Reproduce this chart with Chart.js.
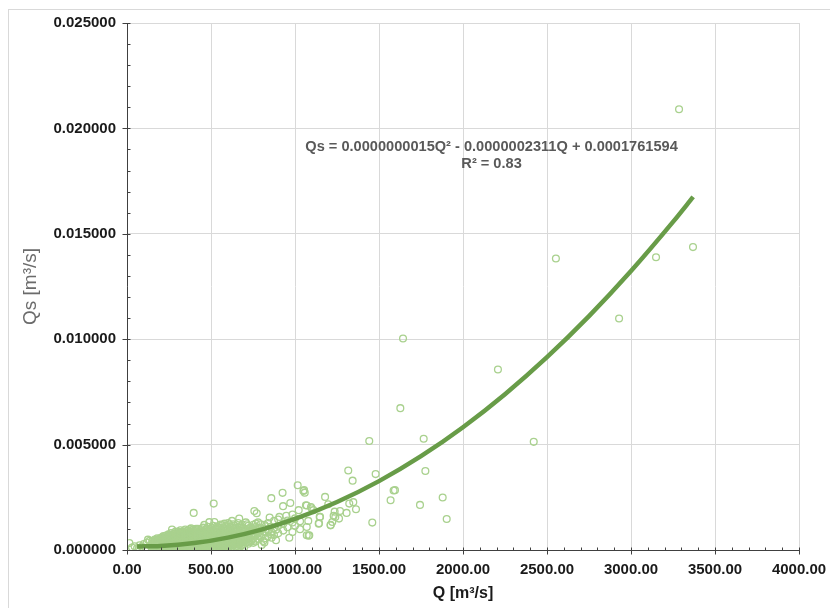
<!DOCTYPE html>
<html>
<head>
<meta charset="utf-8">
<script src="https://cdn.jsdelivr.net/npm/chart.js@4/dist/chart.umd.min.js"></script>
<style>
  html, body { margin: 0; padding: 0; background: #fff; }
  #wrap { width: 830px; height: 608px; position: relative; }
</style>
</head>
<body>
<div id="wrap"><canvas id="chart"></canvas></div>
<script>
const lowFlowPoints = [
  [14,0.00033],[30,0.00012],[45,0.00018],[60,0.00008],[75,0.00022],[88,0.00015],[100,0.00028],[110,0.00010],[118,0.00035],[125,0.00049],[135,0.00044],[140,0.00020],
  [150,0.00005],[150,0.00018],[150,0.00031],[150,0.00042],
  [165,0.00012],[165,0.00025],[165,0.00038],[165,0.00050],
  [180,0.00004],[180,0.00016],[180,0.00029],[180,0.00045],[180,0.00056],
  [195,0.00009],[195,0.00021],[195,0.00034],[195,0.00047],
  [210,0.00003],[210,0.00014],[210,0.00027],[210,0.00040],[210,0.00053],[210,0.00062],
  [225,0.00008],[225,0.00020],[225,0.00033],[225,0.00046],[225,0.00058],
  [240,0.00002],[240,0.00013],[240,0.00025],[240,0.00038],[240,0.00051],[240,0.00064],
  [255,0.00007],[255,0.00019],[255,0.00031],[255,0.00044],[255,0.00057],[255,0.00070],
  [268,0.00097],[268,0.00011],[268,0.00024],[268,0.00036],[268,0.00049],[268,0.00061],
  [282,0.00004],[282,0.00016],[282,0.00029],[282,0.00042],[282,0.00055],[282,0.00068],[282,0.00078],
  [296,0.00009],[296,0.00021],[296,0.00034],[296,0.00047],[296,0.00060],[296,0.00073]
];

const midFlowPoints = [
  [310,0.00002],[310,0.00014],[310,0.00027],[310,0.00040],[310,0.00053],[310,0.00066],[310,0.00080],
  [325,0.00008],[325,0.00020],[325,0.00033],[325,0.00046],[325,0.00059],[325,0.00072],[325,0.00086],
  [340,0.00003],[340,0.00015],[340,0.00028],[340,0.00041],[340,0.00054],[340,0.00067],[340,0.00081],
  [355,0.00010],[355,0.00023],[355,0.00036],[355,0.00049],[355,0.00062],[355,0.00075],[355,0.00090],
  [370,0.00005],[370,0.00017],[370,0.00030],[370,0.00043],[370,0.00056],[370,0.00069],[370,0.00083],
  [381,0.00103],
  [385,0.00011],[385,0.00024],[385,0.00037],[385,0.00050],[385,0.00063],[385,0.00077],[385,0.00092],
  [397,0.00176],
  [400,0.00002],[400,0.00016],[400,0.00029],[400,0.00042],[400,0.00055],[400,0.00068],[400,0.00085],
  [411,0.00101],
  [415,0.00009],[415,0.00022],[415,0.00035],[415,0.00048],[415,0.00061],[415,0.00074],[415,0.00095],
  [430,0.00004],[430,0.00017],[430,0.00030],[430,0.00043],[430,0.00056],[430,0.00069],[430,0.00088],
  [445,0.00011],[445,0.00024],[445,0.00037],[445,0.00050],[445,0.00063],[445,0.00078],[445,0.00098],
  [460,0.00006],[460,0.00019],[460,0.00032],[460,0.00045],[460,0.00058],[460,0.00071],[460,0.00119],
  [475,0.00013],[475,0.00026],[475,0.00039],[475,0.00052],[475,0.00065],[475,0.00082],[475,0.00101],
  [490,0.00003],[490,0.00018],[490,0.00031],[490,0.00044],[490,0.00057],[490,0.00070],[490,0.00092],[490,0.00132],
  [505,0.00010],[505,0.00024],[505,0.00037],[505,0.00050],[505,0.00063],[505,0.00077],[505,0.00104],
  [516,0.00220],
  [520,0.00016],[520,0.00029],[520,0.00042],[520,0.00055],[520,0.00068],[520,0.00086],[520,0.00133],
  [535,0.00008],[535,0.00021],[535,0.00034],[535,0.00047],[535,0.00060],[535,0.00073],[535,0.00095],[535,0.00112],
  [550,0.00014],[550,0.00027],[550,0.00040],[550,0.00053],[550,0.00066],[550,0.00080],[550,0.00102],
  [565,0.00019],[565,0.00032],[565,0.00045],[565,0.00058],[565,0.00071],[565,0.00088],[565,0.00118],
  [580,0.00011],[580,0.00024],[580,0.00037],[580,0.00050],[580,0.00063],[580,0.00077],[580,0.00098],[580,0.00125],
  [595,0.00017],[595,0.00030],[595,0.00043],[595,0.00056],[595,0.00069],[595,0.00085],[595,0.00108],
  [609,0.00122],
  [610,0.00022],[610,0.00035],[610,0.00048],[610,0.00061],[610,0.00074],[610,0.00092],
  [625,0.00014],[625,0.00028],[625,0.00041],[625,0.00054],[625,0.00067],[625,0.00081],[625,0.00138],
  [640,0.00025],[640,0.00038],[640,0.00051],[640,0.00064],[640,0.00079],[640,0.00101],[640,0.00116],
  [655,0.00019],[655,0.00033],[655,0.00046],[655,0.00059],[655,0.00072],[655,0.00090],
  [668,0.00149],
  [670,0.00028],[670,0.00041],[670,0.00054],[670,0.00067],[670,0.00084],[670,0.00106],
  [685,0.00022],[685,0.00036],[685,0.00049],[685,0.00062],[685,0.00077],[685,0.00097],[685,0.00120],
  [698,0.00014],[698,0.00044],[698,0.00058],[698,0.00072],[698,0.00089]
];

// More points inside the dense band (overlapping circles)
const denseBandPoints = [
  [157,0.00011],[157,0.00024],[157,0.00037],
  [172,0.00007],[172,0.00020],[172,0.00033],[172,0.00046],
  [187,0.00010],[187,0.00023],[187,0.00039],[187,0.00052],
  [202,0.00006],[202,0.00018],[202,0.00031],[202,0.00045],[202,0.00058],
  [217,0.00011],[217,0.00024],[217,0.00037],[217,0.00051],[217,0.00066],
  [232,0.00005],[232,0.00017],[232,0.00030],[232,0.00043],[232,0.00056],[232,0.00069],
  [247,0.00010],[247,0.00022],[247,0.00035],[247,0.00048],[247,0.00061],[247,0.00074],
  [262,0.00004],[262,0.00016],[262,0.00029],[262,0.00042],[262,0.00055],[262,0.00067],[262,0.00080],
  [276,0.00009],[276,0.00022],[276,0.00035],[276,0.00049],[276,0.00062],[276,0.00075],
  [289,0.00003],[289,0.00014],[289,0.00027],[289,0.00040],[289,0.00053],[289,0.00066],[289,0.00079],[289,0.00088],
  [303,0.00008],[303,0.00020],[303,0.00033],[303,0.00046],[303,0.00059],[303,0.00072],[303,0.00086],
  [318,0.00005],[318,0.00017],[318,0.00030],[318,0.00043],[318,0.00056],[318,0.00069],[318,0.00083],[318,0.00094],
  [333,0.00010],[333,0.00022],[333,0.00035],[333,0.00048],[333,0.00061],[333,0.00074],[333,0.00088],
  [347,0.00006],[347,0.00019],[347,0.00032],[347,0.00045],[347,0.00058],[347,0.00071],[347,0.00084],[347,0.00097],
  [362,0.00002],[362,0.00013],[362,0.00026],[362,0.00039],[362,0.00052],[362,0.00065],[362,0.00078],[362,0.00092],
  [377,0.00008],[377,0.00020],[377,0.00033],[377,0.00046],[377,0.00059],[377,0.00072],[377,0.00086],[377,0.00099],
  [392,0.00004],[392,0.00018],[392,0.00031],[392,0.00044],[392,0.00057],[392,0.00070],[392,0.00083],[392,0.00096],
  [407,0.00009],[407,0.00022],[407,0.00035],[407,0.00049],[407,0.00062],[407,0.00076],[407,0.00090],
  [422,0.00003],[422,0.00015],[422,0.00028],[422,0.00041],[422,0.00054],[422,0.00067],[422,0.00081],[422,0.00101],
  [437,0.00009],[437,0.00021],[437,0.00034],[437,0.00047],[437,0.00060],[437,0.00074],[437,0.00093],
  [452,0.00004],[452,0.00016],[452,0.00029],[452,0.00042],[452,0.00055],[452,0.00068],[452,0.00084],[452,0.00106],
  [467,0.00011],[467,0.00024],[467,0.00037],[467,0.00050],[467,0.00063],[467,0.00077],[467,0.00095],
  [482,0.00007],[482,0.00020],[482,0.00033],[482,0.00046],[482,0.00060],[482,0.00074],[482,0.00088],[482,0.00110],
  [497,0.00014],[497,0.00027],[497,0.00040],[497,0.00053],[497,0.00067],[497,0.00082],[497,0.00097],
  [512,0.00008],[512,0.00021],[512,0.00034],[512,0.00047],[512,0.00061],[512,0.00075],[512,0.00091],[512,0.00115],
  [527,0.00012],[527,0.00025],[527,0.00038],[527,0.00051],[527,0.00065],[527,0.00079],[527,0.00100],
  [542,0.00018],[542,0.00031],[542,0.00044],[542,0.00057],[542,0.00071],[542,0.00087],[542,0.00108],
  [557,0.00010],[557,0.00024],[557,0.00037],[557,0.00050],[557,0.00064],[557,0.00078],[557,0.00095],[557,0.00121],
  [572,0.00016],[572,0.00029],[572,0.00042],[572,0.00055],[572,0.00069],[572,0.00084],[572,0.00107],
  [587,0.00021],[587,0.00034],[587,0.00047],[587,0.00060],[587,0.00074],[587,0.00091],[587,0.00114],
  [602,0.00013],[602,0.00027],[602,0.00040],[602,0.00053],[602,0.00067],[602,0.00080],[602,0.00100],[602,0.00128],
  [617,0.00019],[617,0.00032],[617,0.00045],[617,0.00058],[617,0.00071],[617,0.00087],[617,0.00110],
  [632,0.00024],[632,0.00037],[632,0.00050],[632,0.00063],[632,0.00077],[632,0.00095],[632,0.00122],
  [647,0.00016],[647,0.00030],[647,0.00043],[647,0.00056],[647,0.00070],[647,0.00085],[647,0.00104],
  [662,0.00025],[662,0.00038],[662,0.00051],[662,0.00065],[662,0.00080],[662,0.00098],[662,0.00128],
  [677,0.00019],[677,0.00033],[677,0.00046],[677,0.00059],[677,0.00073],[677,0.00092],[677,0.00112],
  [692,0.00029],[692,0.00042],[692,0.00055],[692,0.00069],[692,0.00086],[692,0.00105],
  [707,0.00035],[707,0.00048],[707,0.00062],[707,0.00079],[707,0.00098],[707,0.00131],
  [722,0.00030],[722,0.00052],[722,0.00072],[722,0.00091],[722,0.00115],
  [737,0.00040],[737,0.00065],[737,0.00086],[737,0.00108],
  [752,0.00034],[752,0.00079],[752,0.00099],
  [767,0.00049],[767,0.00095],[767,0.00126],
  [785,0.00066],[785,0.00104],
  [818,0.00035],[818,0.00120],
  [855,0.00110],[855,0.00075]
];

const upperFlowPoints = [
  [714,0.00122],[714,0.00052],[714,0.00068],
  [725,0.00038],[725,0.00061],[725,0.00083],[725,0.00102],
  [740,0.00047],[740,0.00074],[740,0.00094],
  [752,0.00120],[752,0.00058],[758,0.00185],
  [765,0.00040],[765,0.00069],[765,0.00088],[765,0.00109],
  [772,0.00174],[780,0.00053],[780,0.00079],[780,0.00131],
  [796,0.00122],[796,0.00062],[796,0.00091],[802,0.00024],
  [811,0.00043],[811,0.00073],[811,0.00101],
  [825,0.00056],[825,0.00086],[825,0.00113],
  [840,0.00065],[840,0.00095],[840,0.00128],
  [849,0.00154],[859,0.00246],[861,0.00058],[861,0.00084],
  [875,0.00071],[875,0.00104],[875,0.00138],
  [887,0.00046],[887,0.00096],
  [900,0.00079],[900,0.00115],[900,0.00145],
  [907,0.00157],[926,0.00271],[929,0.00208],[930,0.00092],[930,0.00124],
  [948,0.00162],[955,0.00108],[955,0.00140],[966,0.00058],[972,0.00223],
  [985,0.00085],[985,0.00131],[985,0.00168],[1000,0.00115],[1000,0.00150],
  [1016,0.00307],[1022,0.00189],[1030,0.00099],[1030,0.00136],
  [1050,0.00280],[1054,0.00284],[1058,0.00272],[1065,0.00212],
  [1070,0.00211],[1070,0.00070],[1070,0.00109],[1079,0.00138],[1081,0.00068],[1085,0.00070],
  [1095,0.00204],[1099,0.00198],[1109,0.00189]
];

const highFlowPoints = [
  [1141,0.00125],[1143,0.00127],[1147,0.00157],[1149,0.00157],[1179,0.00252],[1198,0.00217],
  [1212,0.00117],[1212,0.00119],[1222,0.00133],[1230,0.00162],[1236,0.00182],[1240,0.00157],
  [1262,0.00149],[1268,0.00185],[1307,0.00176],[1317,0.00377],[1323,0.00220],[1343,0.00329],
  [1347,0.00227],[1363,0.00193],[1442,0.00517],[1460,0.00130],[1480,0.00360],[1569,0.00236],
  [1587,0.00282],[1595,0.00284],[1627,0.00673],[1643,0.01003],
  [1744,0.00214],[1766,0.00528],[1776,0.00375],[1879,0.00249],[1903,0.00147],
  [2208,0.00856],[2421,0.00513],[2553,0.01383],[2929,0.01098],[3149,0.01389],[3286,0.02091],[3369,0.01437]
];

// Polynomial trend line, read at points along the drawn curve
const trendQ  = [60, 200, 400, 600, 800, 1000, 1250, 1500, 1750, 2000, 2250, 2500, 2750, 3000, 3250, 3370];
const trendQs = [0.000168, 0.000191, 0.000328, 0.000587, 0.000969, 0.001473, 0.002275, 0.003267, 0.004451, 0.005826, 0.007392, 0.009148, 0.011096, 0.013235, 0.015565, 0.016750];

const xTicks = [0, 500, 1000, 1500, 2000, 2500, 3000, 3500, 4000];
const yTicks = [0, 0.005, 0.010, 0.015, 0.020, 0.025];
const minorPerMajor = 5;

const equationText = 'Qs = 0.0000000015Q² - 0.0000002311Q + 0.0001761594';
const r2Text = 'R² = 0.83';

const allPoints = lowFlowPoints.concat(midFlowPoints, denseBandPoints, upperFlowPoints, highFlowPoints)
  .map(p => ({ x: p[0], y: p[1] }));
const trendPoints = trendQ.map((q, i) => ({ x: q, y: trendQs[i] }));

const FONT = "'Liberation Sans', Arial, sans-serif";

const decorations = {
  id: 'decorations',
  beforeDraw(chart) {
    const ctx = chart.ctx;
    ctx.save();
    ctx.strokeStyle = '#d9d9d9';
    ctx.lineWidth = 1;
    ctx.strokeRect(8.5, 9.5, 900, 700);
    ctx.restore();
  },
  afterDraw(chart) {
    const { ctx, chartArea, scales: { x, y } } = chart;
    const ax = Math.round(chartArea.left) + 0.5;
    const ay = Math.round(chartArea.bottom) + 0.5;
    ctx.save();
    ctx.strokeStyle = '#404040';
    ctx.lineWidth = 1;
    ctx.beginPath();
    ctx.moveTo(ax, chartArea.top);
    ctx.lineTo(ax, ay);
    ctx.lineTo(chartArea.right, ay);
    // y axis ticks
    for (let i = 0; i < yTicks.length; i++) {
      const py = Math.round(y.getPixelForValue(yTicks[i])) + 0.5;
      ctx.moveTo(ax - 5, py); ctx.lineTo(ax + 3, py);
      if (i < yTicks.length - 1) {
        const step = (yTicks[i + 1] - yTicks[i]) / minorPerMajor;
        for (let m = 1; m < minorPerMajor; m++) {
          const my = Math.round(y.getPixelForValue(yTicks[i] + step * m)) + 0.5;
          ctx.moveTo(ax, my); ctx.lineTo(ax + 3, my);
        }
      }
    }
    // x axis ticks
    for (let i = 0; i < xTicks.length; i++) {
      const px = Math.round(x.getPixelForValue(xTicks[i])) + 0.5;
      ctx.moveTo(px, ay - 3); ctx.lineTo(px, ay + 4);
      if (i < xTicks.length - 1) {
        const step = (xTicks[i + 1] - xTicks[i]) / minorPerMajor;
        for (let m = 1; m < minorPerMajor; m++) {
          const mx = Math.round(x.getPixelForValue(xTicks[i] + step * m)) + 0.5;
          ctx.moveTo(mx, ay - 3); ctx.lineTo(mx, ay);
        }
      }
    }
    ctx.stroke();

    // trend line equation
    ctx.fillStyle = '#595959';
    ctx.font = 'bold 14.6px ' + FONT;
    ctx.textAlign = 'center';
    ctx.textBaseline = 'middle';
    const tx = x.getPixelForValue(2170);
    ctx.fillText(equationText, tx, y.getPixelForValue(0.01911));
    ctx.fillText(r2Text, tx, y.getPixelForValue(0.01830));
    ctx.restore();
  }
};

new Chart(document.getElementById('chart'), {
  type: 'scatter',
  data: {
    datasets: [
      {
        type: 'line',
        label: 'Poly. (Qs)',
        data: trendPoints,
        borderColor: '#689c48',
        borderWidth: 4.5,
        pointRadius: 0,
        fill: false,
        cubicInterpolationMode: 'monotone',
        order: 0
      },
      {
        label: 'Qs',
        data: allPoints,
        pointRadius: 3.4,
        pointBorderWidth: 1.3,
        borderColor: '#a9d18e',
        backgroundColor: 'rgba(0,0,0,0)',
        order: 1
      }
    ]
  },
  options: {
    responsive: true,
    maintainAspectRatio: false,
    animation: false,
    layout: { padding: { left: 10, top: 23, right: 31, bottom: 5 } },
    plugins: { legend: { display: false }, tooltip: { enabled: false } },
    scales: {
      x: {
        type: 'linear',
        min: 0, max: 4000,
        afterBuildTicks: s => { s.ticks = xTicks.map(v => ({ value: v })); },
        afterFit: s => { s.height = 53; s.paddingLeft = 0; s.paddingRight = 0; },
        grid: { color: '#d9d9d9', drawTicks: false },
        border: { display: false },
        ticks: {
          padding: 11,
          color: '#1a1a1a',
          font: { family: FONT, size: 15, weight: 'bold' },
          maxRotation: 0,
          callback: v => Number(v).toFixed(2)
        },
        title: {
          display: true,
          text: 'Q [m³/s]',
          color: '#1a1a1a',
          font: { family: FONT, size: 16, weight: 'bold' },
          padding: { top: 3, bottom: 0 }
        }
      },
      y: {
        type: 'linear',
        min: 0, max: 0.025,
        afterBuildTicks: s => { s.ticks = yTicks.map(v => ({ value: v })); },
        afterFit: s => { s.width = 117; s.paddingTop = 0; s.paddingBottom = 0; },
        grid: { color: '#d9d9d9', drawTicks: false },
        border: { display: false },
        ticks: {
          padding: 11,
          color: '#1a1a1a',
          font: { family: FONT, size: 15, weight: 'bold' },
          callback: v => Number(v).toFixed(6)
        },
        title: {
          display: true,
          text: 'Qs [m³/s]',
          color: '#6b6b6b',
          font: { family: FONT, size: 19 },
          padding: { top: 9, bottom: 4 }
        }
      }
    }
  },
  plugins: [decorations]
});
</script>
</body>
</html>
